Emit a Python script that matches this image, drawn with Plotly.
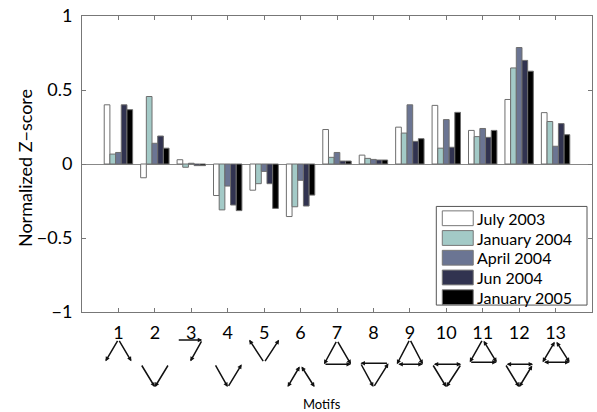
import plotly.graph_objects as go

motifs = list(range(1, 14))
series_names = ["July 2003", "January 2004", "April 2004", "Jun 2004", "January 2005"]
july_2003 = [0.40, -0.093, 0.029, -0.213, -0.177, -0.355, 0.233, 0.060, 0.249, 0.396, 0.227, 0.436, 0.347]
jan_2004 = [0.067, 0.456, -0.022, -0.310, -0.133, -0.289, 0.045, 0.038, 0.209, 0.107, 0.185, 0.649, 0.287]
apr_2004 = [0.078, 0.140, 0.005, -0.149, -0.050, -0.110, 0.078, 0.031, 0.400, 0.300, 0.240, 0.787, 0.120]
jun_2004 = [0.400, 0.189, -0.011, -0.277, -0.133, -0.284, 0.020, 0.027, 0.153, 0.113, 0.180, 0.700, 0.273]
jan_2005 = [0.367, 0.107, -0.011, -0.315, -0.300, -0.210, 0.020, 0.027, 0.171, 0.349, 0.227, 0.627, 0.198]
series_values = [july_2003, jan_2004, apr_2004, jun_2004, jan_2005]
colors = ["#ffffff", "#a3cac7", "#6b7593", "#313350", "#000000"]
y_tickvals = [-1, -0.5, 0, 0.5, 1]
y_ticktext = ["\u22121", "\u22120.5", "0", "0.5", "1"]

W, H = 597, 412
L, R, T, B = 82, 593, 12, 312
FONT = "Lato"

def px2x(px):
    return (px - L) / (R - L)

def py2y(py):
    return (B - py) / (B - T)

fig = go.Figure()
for name, vals, col in zip(series_names, series_values, colors):
    fig.add_trace(go.Bar(x=motifs, y=vals, name=name, marker=dict(color=col, line=dict(color="#6e6e6e", width=1)),
                         showlegend=False))

shapes = []
annotations = []

# legend (manual, large swatches)
shapes.append(dict(type="rect", xref="paper", yref="paper", x0=px2x(437), x1=px2x(588), y0=py2y(305), y1=py2y(205),
                   line=dict(color="#555555", width=1), fillcolor="white", layer="above"))
for i, (name, col) in enumerate(zip(series_names, colors)):
    cy = 217 + 20 * i
    shapes.append(dict(type="rect", xref="paper", yref="paper", x0=px2x(443), x1=px2x(474),
                       y0=py2y(cy + 7.5), y1=py2y(cy - 7.5), line=dict(color="#777777", width=1),
                       fillcolor=col, layer="above"))
    annotations.append(dict(text=name, xref="paper", yref="paper", x=px2x(476), y=py2y(cy), xanchor="left",
                            yanchor="middle", showarrow=False, font=dict(family=FONT, size=16, color="black")))

# motif icons: nodes (dx px, y px) and edges (from, to, both)
motif_icons = {
    1: ({"A": (0, 340), "L": (-13, 362), "R": (13, 362)}, [("A", "L", 0), ("A", "R", 0)]),
    2: ({"L": (-14, 365), "R": (14, 365), "B": (0, 388)}, [("L", "B", 0), ("R", "B", 0)]),
    3: ({"L": (-14, 340.5), "R": (11, 340.5), "B": (-1, 362)}, [("L", "R", 0), ("R", "B", 0)]),
    4: ({"L": (-13, 365), "R": (14, 365), "B": (0, 388)}, [("L", "B", 0), ("B", "R", 0)]),
    5: ({"L": (-15, 340), "R": (15, 340), "B": (0, 363)}, [("B", "L", 0), ("B", "R", 0)]),
    6: ({"A": (0, 366), "L": (-13, 388), "R": (14, 388)}, [("A", "L", 1), ("A", "R", 1)]),
    7: ({"A": (0, 341), "L": (-13, 365), "R": (14, 365)}, [("A", "L", 0), ("A", "R", 0), ("L", "R", 0)]),
    8: ({"L": (-13, 364), "R": (15, 364), "B": (0, 388)}, [("R", "L", 0), ("L", "B", 0), ("B", "R", 0)]),
    9: ({"A": (0, 340), "L": (-13, 365), "R": (13, 365)}, [("A", "L", 0), ("A", "R", 0), ("L", "R", 1)]),
    10: ({"L": (-14, 365), "R": (15, 365), "B": (0, 388)}, [("L", "R", 1), ("L", "B", 0), ("R", "B", 0)]),
    11: ({"A": (0, 340), "L": (-13, 363), "R": (14, 363)}, [("L", "R", 0), ("A", "R", 1), ("A", "L", 0)]),
    12: ({"L": (-14, 365), "R": (14, 365), "B": (0, 388)}, [("L", "R", 1), ("L", "B", 0), ("R", "B", 1)]),
    13: ({"A": (0, 341), "L": (-13, 363), "R": (14, 363)}, [("A", "L", 1), ("A", "R", 1), ("L", "R", 1)]),
}
xscale = (R - L) / 14.0
for m, (nodes, edges) in motif_icons.items():
    for a, b, both in edges:
        ax_, ay_ = nodes[a]
        bx_, by_ = nodes[b]
        annotations.append(dict(
            text="", xref="x", yref="paper", x=m + bx_ / xscale, y=py2y(by_),
            axref="pixel", ayref="pixel", ax=ax_ - bx_, ay=ay_ - by_,
            showarrow=True, arrowhead=2, arrowsize=0.6, arrowwidth=1.5, arrowcolor="#111111",
            arrowside="end+start" if both else "end", startarrowhead=2, startarrowsize=0.6,
            standoff=0, startstandoff=0))

annotations.append(dict(text="Motifs", xref="paper", yref="paper", x=px2x(322), y=py2y(405), xanchor="center",
                        yanchor="middle", showarrow=False, font=dict(family=FONT, size=13, color="black")))
annotations.append(dict(text="Normalized Z\u2212score", xref="paper", yref="paper", x=px2x(25), y=py2y(166),
                        xanchor="center", yanchor="middle", textangle=-90, showarrow=False,
                        font=dict(family=FONT, size=18, color="black")))

fig.update_layout(
    width=W, height=H,
    margin=dict(l=L, r=W - R, t=T, b=H - B),
    paper_bgcolor="white", plot_bgcolor="white",
    barmode="group", bargap=0.22, bargroupgap=0,
    font=dict(family=FONT, size=16, color="black"),
    shapes=shapes, annotations=annotations,
    showlegend=False,
)
fig.update_xaxes(range=[0, 14], tickvals=motifs, ticks="inside", ticklen=4, tickcolor="#777777",
                 showline=True, linecolor="#777777", linewidth=1, mirror="ticks", showgrid=False,
                 zeroline=False, tickfont=dict(size=18), ticklabelstandoff=4)
fig.update_yaxes(range=[-1, 1], tickvals=y_tickvals, ticktext=y_ticktext, ticks="inside", ticklen=4,
                 tickcolor="#777777", showline=True, linecolor="#777777", linewidth=1, mirror="ticks",
                 showgrid=False, zeroline=True, zerolinecolor="#888888", zerolinewidth=1,
                 tickfont=dict(size=18), ticklabelstandoff=5)

fig.write_html("out.html", config={"displayModeBar": False},
               post_script="document.body.style.margin='0';document.body.style.padding='0';")
